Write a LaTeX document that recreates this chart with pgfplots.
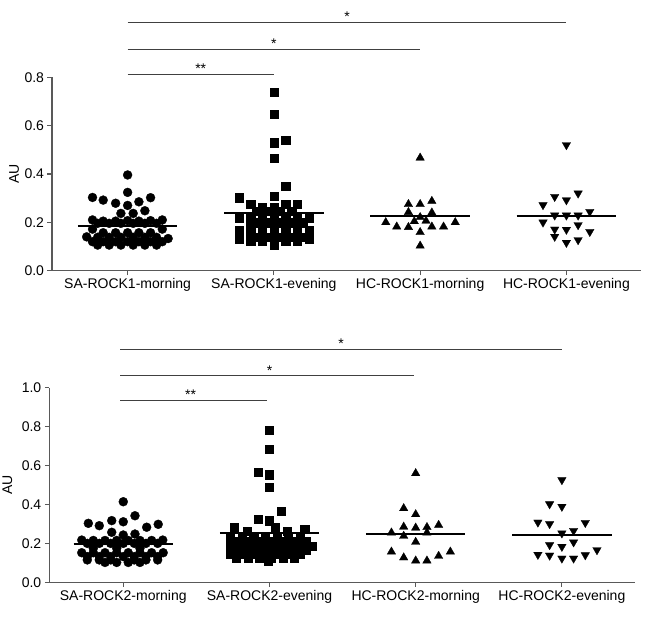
\documentclass[border=0pt]{standalone}
\usepackage{fontspec}
\setmainfont{Liberation Sans}
\usepackage{pgfplots}
\pgfplotsset{compat=1.18}

\newcommand{\fs}{\fontsize{14}{16}\selectfont}

\pgfplotsset{
  dotplot/.style={
    scale only axis, clip=false,
    axis x line=bottom, axis y line=left,
    axis line style={line width=1.1pt, black!65, -},
    tick align=outside, major tick length=4.5pt,
    tick style={line width=1.1pt, black!65},
    xtick={0,1,2,3},
    ymin=0,
    /pgf/number format/assume math mode=true,
    tick label style={font=\fs},
    label style={font=\fs},
    yticklabel style={/pgf/number format/.cd, fixed, fixed zerofill, precision=1},
    ylabel={AU},
  },
  gA/.style={black, only marks, mark=*, mark size=4.5pt, mark options={line width=0.3pt}},
  gB/.style={black, only marks, mark=square*, mark size=4.1pt, mark options={line width=0.2pt}},
  gC/.style={black, only marks, mark=triangle*, mark size=4.9pt, mark options={line width=0.3pt}},
  gD/.style={black, only marks, mark=triangle*, mark size=4.9pt, mark options={rotate=180, line width=0.3pt}},
  meanline/.style={black, line width=2pt, no marks},
  bracket/.style={black!75, line width=0.8pt, no marks},
}

\begin{document}
\begin{tikzpicture}
\path[use as bounding box] (0,0) rectangle (646pt,622pt);

% ---------------- Top panel: ROCK1 ----------------
\begin{axis}[dotplot,
  at={(52pt,351.3pt)}, anchor=south west,
  width=589pt, height=193.4pt,
  xmin=-0.517, xmax=3.51, ymax=0.8,
  ytick={0,0.2,0.4,0.6,0.8},
  xticklabels={SA-ROCK1-morning,SA-ROCK1-evening,HC-ROCK1-morning,HC-ROCK1-evening},
  ylabel style={at={(axis description cs:-0.0645,0.5)}, anchor=center},
]
\addplot[gA] coordinates {
(0,0.396) (0,0.324) (-0.24,0.303) (-0.167,0.292) (-0.082,0.279) (0,0.270) (0.077,0.285) (0.157,0.302)
(-0.046,0.237) (0.038,0.237) (0.118,0.248)
(-0.24,0.210) (-0.167,0.205) (-0.082,0.205) (0,0.207) (0.077,0.205) (0.157,0.207) (0.237,0.210)
(-0.205,0.196) (-0.126,0.196) (-0.046,0.196) (0.038,0.196) (0.118,0.196) (0.198,0.196)
(-0.24,0.172) (0.237,0.172)
(-0.167,0.157) (-0.082,0.157) (0,0.157) (0.077,0.157) (0.157,0.157)
(-0.28,0.140) (-0.205,0.138) (-0.126,0.138) (-0.046,0.138) (0.038,0.138) (0.118,0.138) (0.198,0.138) (0.277,0.133)
(-0.24,0.120) (-0.167,0.120) (-0.082,0.120) (0,0.120) (0.077,0.120) (0.157,0.120) (0.237,0.120)
(-0.205,0.106) (-0.126,0.106) (-0.046,0.106) (0.038,0.106) (0.118,0.106) (0.198,0.106)
};
\addplot[gB] coordinates {
(1,0.740) (1,0.648) (1,0.530) (1.08,0.540) (1,0.465) (1.08,0.350) (1,0.309) (0.761,0.302)
(0.841,0.275) (1.08,0.275) (1.16,0.275)
(0.921,0.262) (1.0,0.262)
(0.88,0.248) (0.962,0.248) (1.039,0.248) (1.121,0.248)
(0.761,0.219) (0.841,0.219) (0.921,0.219) (1.0,0.219) (1.08,0.219) (1.16,0.219) (1.239,0.219)
(0.88,0.199) (0.962,0.199) (1.039,0.199) (1.121,0.199) (1.198,0.199)
(0.841,0.182) (0.921,0.182) (1.0,0.182) (1.08,0.182) (1.16,0.182)
(0.761,0.168) (1.239,0.168)
(0.841,0.155) (0.921,0.155) (1.0,0.155) (1.08,0.155) (1.16,0.155)
(0.88,0.140) (0.962,0.140) (1.039,0.140) (1.121,0.140) (1.198,0.140)
(0.761,0.131) (1.239,0.131)
(0.841,0.123) (0.921,0.123) (1.0,0.123) (1.08,0.123) (1.16,0.123)
(1.0,0.106)
};
\addplot[gC] coordinates {
(2,0.467)
(1.92,0.275) (2,0.275) (2.08,0.288)
(1.92,0.242) (2.08,0.240)
(2,0.221)
(1.96,0.204) (2.04,0.206)
(1.765,0.200) (2.24,0.200)
(1.84,0.182) (1.92,0.180) (2.08,0.182) (2.16,0.182)
(2,0.159)
(2,0.103)
};
\addplot[gD] coordinates {
(3,0.520) (3.08,0.320) (2.92,0.306) (3,0.292) (2.84,0.272) (3.16,0.244)
(2.92,0.229) (3,0.229) (3.08,0.229)
(2.84,0.200) (3.08,0.189) (2.92,0.171) (3,0.170) (3.16,0.161)
(2.92,0.141) (3.08,0.127) (3,0.116)
};
\addplot[meanline] coordinates {(-0.34,0.186) (0.34,0.186)};
\addplot[meanline] coordinates {(0.66,0.237) (1.34,0.237)};
\addplot[meanline] coordinates {(1.66,0.228) (2.34,0.228)};
\addplot[meanline] coordinates {(2.66,0.228) (3.34,0.228)};
\addplot[bracket] coordinates {(0,0.814) (1,0.814)};
\addplot[bracket] coordinates {(0,0.917) (2,0.917)};
\addplot[bracket] coordinates {(0,1.029) (3,1.029)};
\node[anchor=south, inner sep=0pt, font=\fs] at (axis cs:0.5,0.814) {**};
\node[anchor=south, inner sep=0pt, font=\fs] at (axis cs:1.0,0.917) {*};
\node[anchor=south, inner sep=0pt, font=\fs] at (axis cs:1.5,1.029) {*};
\end{axis}

% ---------------- Bottom panel: ROCK2 ----------------
\begin{axis}[dotplot,
  at={(49.3pt,39.7pt)}, anchor=south west,
  width=585.7pt, height=194.6pt,
  xmin=-0.506, xmax=3.50, ymax=1.0,
  ytick={0,0.2,0.4,0.6,0.8,1.0},
  xticklabels={SA-ROCK2-morning,SA-ROCK2-evening,HC-ROCK2-morning,HC-ROCK2-evening},
  ylabel style={at={(axis description cs:-0.0717,0.5)}, anchor=center},
]
\addplot[gA] coordinates {
(0,0.414) (0.08,0.342) (-0.239,0.303) (-0.164,0.291) (-0.079,0.317) (0,0.311) (0.239,0.298) (0.16,0.283)
(-0.079,0.257) (0,0.243) (0.08,0.248)
(-0.284,0.217) (-0.205,0.215) (-0.125,0.215) (-0.045,0.215) (0.034,0.215) (0.114,0.215) (0.194,0.215) (0.27,0.217)
(-0.246,0.200) (-0.164,0.200) (-0.086,0.200) (0,0.200) (0.075,0.200) (0.155,0.200) (0.235,0.200)
(-0.205,0.175) (-0.045,0.175) (0.114,0.175)
(-0.284,0.152) (-0.205,0.152) (-0.125,0.152) (-0.045,0.152) (0.034,0.152) (0.114,0.152) (0.194,0.152) (0.273,0.152)
(-0.246,0.132) (-0.164,0.132) (-0.086,0.132) (0,0.132) (0.075,0.132) (0.155,0.132) (0.235,0.132)
(-0.246,0.115) (-0.164,0.115) (-0.086,0.115) (0.075,0.115) (0.155,0.115) (0.235,0.115)
(-0.125,0.102) (-0.045,0.102) (0.034,0.102) (0.114,0.102)
};
\addplot[gB] coordinates {
(1,0.783) (1,0.685) (0.92,0.568) (1,0.553) (1,0.491) (1.08,0.364) (0.92,0.324) (1,0.317)
(0.76,0.283) (0.848,0.265) (1.04,0.285) (1.12,0.262) (1.24,0.272)
(0.731,0.234) (0.811,0.234) (0.891,0.234) (0.971,0.234) (1.05,0.234) (1.13,0.234) (1.21,0.234)
(0.772,0.212) (0.852,0.212) (0.932,0.212) (1.012,0.212) (1.092,0.212) (1.171,0.212) (1.251,0.212)
(0.731,0.188) (0.811,0.188) (0.891,0.188) (0.971,0.188) (1.05,0.188) (1.13,0.188) (1.21,0.188) (1.29,0.188)
(0.772,0.166) (0.852,0.166) (0.932,0.166) (1.012,0.166) (1.092,0.166) (1.171,0.166) (1.251,0.166)
(0.731,0.144) (0.811,0.144) (0.891,0.144) (0.971,0.144) (1.05,0.144) (1.13,0.144) (1.21,0.144)
(0.772,0.127) (0.852,0.127) (0.932,0.127) (1.012,0.127) (1.092,0.127) (1.171,0.127)
(0.99,0.110)
};
\addplot[gC] coordinates {
(2,0.560) (1.918,0.380) (2,0.349)
(1.918,0.285) (2,0.280) (2.077,0.283) (2.157,0.294)
(1.834,0.255) (1.918,0.238) (2.077,0.255)
(2,0.207)
(1.834,0.157) (2.237,0.157)
(1.918,0.127) (2.157,0.135)
(2,0.111) (2.077,0.111)
};
\addplot[gD] coordinates {
(3,0.526) (2.916,0.402) (3,0.389)
(2.836,0.308) (2.916,0.300) (3.16,0.306)
(3,0.252) (3.08,0.265)
(3.08,0.206) (2.916,0.192) (3,0.183)
(2.836,0.142) (2.916,0.138) (3,0.123) (3.08,0.123) (3.16,0.140) (3.24,0.166)
};
\addplot[meanline] coordinates {(-0.34,0.197) (0.34,0.197)};
\addplot[meanline] coordinates {(0.66,0.252) (1.34,0.252)};
\addplot[meanline] coordinates {(1.66,0.248) (2.34,0.248)};
\addplot[meanline] coordinates {(2.66,0.243) (3.34,0.243)};
\addplot[bracket] coordinates {(-0.02,0.937) (0.98,0.937)};
\addplot[bracket] coordinates {(-0.02,1.062) (1.99,1.062)};
\addplot[bracket] coordinates {(-0.02,1.199) (3,1.199)};
\node[anchor=south, inner sep=0pt, font=\fs] at (axis cs:0.46,0.937) {**};
\node[anchor=south, inner sep=0pt, font=\fs] at (axis cs:1.0,1.062) {*};
\node[anchor=south, inner sep=0pt, font=\fs] at (axis cs:1.49,1.199) {*};
\end{axis}
\end{tikzpicture}
\end{document}
